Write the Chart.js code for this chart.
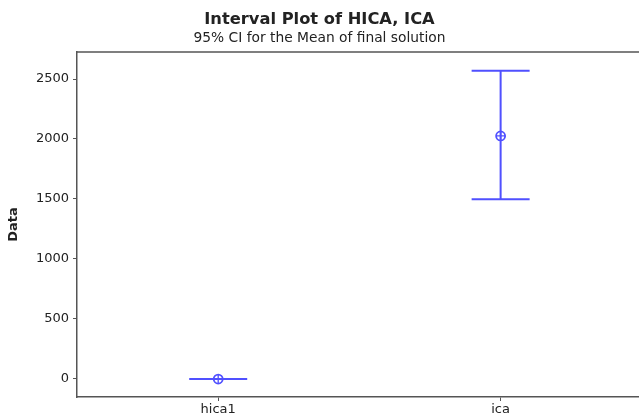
<!DOCTYPE html>
<html>
<head>
<meta charset="utf-8">
<script src="https://cdn.jsdelivr.net/npm/chart.js@4/dist/chart.umd.min.js"></script>
<style>
  html, body { margin: 0; padding: 0; background: #fff; }
  #wrap { width: 639px; height: 420px; }
</style>
</head>
<body>
<div id="wrap"><canvas id="chart"></canvas></div>
<script>
// data
const categories = ['hica1', 'ica'];
const means = [-5, 2025];
const lower = [-5, 1497];
const upper = [-5, 2570];
const yTicks = [0, 500, 1000, 1500, 2000, 2500];

const blue = 'rgb(80, 80, 255)';
const axisColor = '#555';
const fontFamily = "'DejaVu Sans', Verdana, sans-serif";

const points = categories.map((c, i) => ({ x: i + 1, y: means[i] }));

// whiskers + caps, drawn through the chart scales
const intervalPlugin = {
  id: 'intervals',
  afterDatasetsDraw(chart) {
    const { ctx, scales: { x, y }, chartArea } = chart;
    ctx.save();
    ctx.strokeStyle = blue;
    ctx.lineWidth = 2;
    const capHalf = 29;
    categories.forEach((c, i) => {
      const px = x.getPixelForValue(i + 1);
      const pLo = y.getPixelForValue(lower[i]);
      const pHi = y.getPixelForValue(upper[i]);
      ctx.beginPath();
      ctx.moveTo(px, pLo);
      ctx.lineTo(px, pHi);
      ctx.moveTo(px - capHalf, pLo);
      ctx.lineTo(px + capHalf, pLo);
      ctx.moveTo(px - capHalf, pHi);
      ctx.lineTo(px + capHalf, pHi);
      ctx.stroke();
    });
    // top frame line
    ctx.strokeStyle = axisColor;
    ctx.lineWidth = 1.5;
    ctx.beginPath();
    ctx.moveTo(chartArea.left, chartArea.top);
    ctx.lineTo(chartArea.right, chartArea.top);
    ctx.stroke();
    ctx.restore();
  }
};

new Chart(document.getElementById('chart'), {
  type: 'scatter',
  data: {
    datasets: [
      {
        data: points,
        pointStyle: 'circle',
        pointRadius: 4.5,
        pointBorderColor: blue,
        pointBackgroundColor: 'rgba(0,0,0,0)',
        pointBorderWidth: 1.8
      },
      {
        data: points,
        pointStyle: 'cross',
        pointRadius: 4.5,
        pointBorderColor: blue,
        pointBorderWidth: 1.3
      }
    ]
  },
  options: {
    responsive: true,
    maintainAspectRatio: false,
    animation: false,
    events: [],
    layout: { autoPadding: false, padding: 0 },
    plugins: {
      legend: { display: false },
      tooltip: { enabled: false },
      title: {
        display: true,
        text: 'Interval Plot of HICA, ICA',
        color: '#222',
        font: { family: fontFamily, size: 16.3, weight: 'bold', lineHeight: 1.2 },
        padding: { top: 10, bottom: 0 }
      },
      subtitle: {
        display: true,
        text: '95% CI for the Mean of final solution',
        color: '#222',
        font: { family: fontFamily, size: 13.8, lineHeight: 1.2 },
        padding: { top: 1, bottom: 5 }
      }
    },
    scales: {
      x: {
        type: 'linear',
        min: 0.5,
        max: 2.49,
        afterBuildTicks: (s) => { s.ticks = categories.map((c, i) => ({ value: i + 1 })); },
        afterFit: (s) => { s.height = 23; },
        ticks: {
          callback: (v) => categories[v - 1],
          color: '#222',
          font: { family: fontFamily, size: 13 },
          padding: 1,
          maxRotation: 0
        },
        grid: { drawOnChartArea: false, drawTicks: true, tickLength: 4, color: axisColor },
        border: { display: true, color: axisColor, width: 1.5 }
      },
      y: {
        min: -155,
        max: 2725,
        afterBuildTicks: (s) => { s.ticks = yTicks.map(v => ({ value: v })); },
        afterFit: (s) => { s.width = 77; },
        ticks: {
          callback: (v) => String(v),
          color: '#222',
          font: { family: fontFamily, size: 13 },
          padding: 4
        },
        title: {
          display: true,
          text: 'Data',
          color: '#222',
          font: { family: fontFamily, size: 13, weight: 'bold' },
          padding: { top: 6, bottom: 0 }
        },
        grid: { drawOnChartArea: false, drawTicks: true, tickLength: 4, color: axisColor },
        border: { display: true, color: axisColor, width: 1.5 }
      }
    }
  },
  plugins: [intervalPlugin]
});
</script>
</body>
</html>
